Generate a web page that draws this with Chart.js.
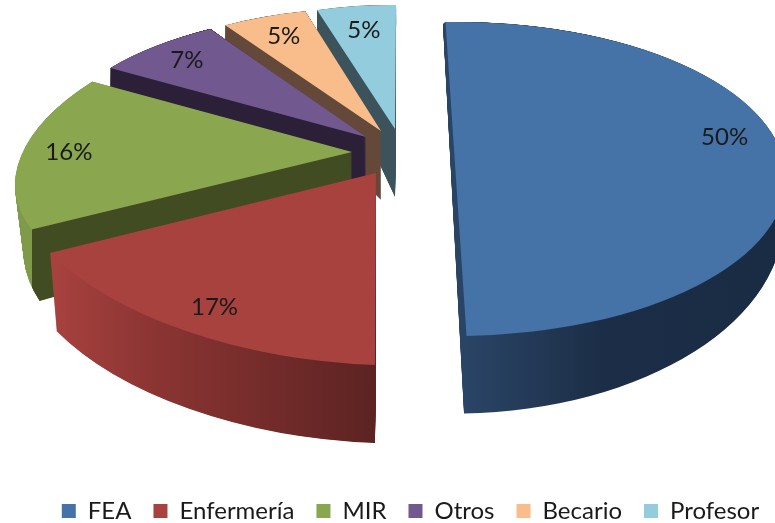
<!DOCTYPE html>
<html><head><meta charset="utf-8">
<style>html,body{margin:0;padding:0;background:#fff}canvas{display:block}</style>
<script src="https://cdn.jsdelivr.net/npm/chart.js@4"></script></head>
<body><canvas id="c" width="775" height="523"></canvas>
<script>
const categories = ['FEA','Enfermería','MIR','Otros','Becario','Profesor'];
const values = [50,17,16,7,5,5];
const topColors = ['#4572a7','#a8423f','#8aa64f','#71588f','#f9bd8c','#93cddd'];
// Wall shading: [device x, colour] stops
const wallStops = [
  [[466,'#2a4466'],[600,'#1c2e47'],[775,'#1a2c44']],
  [[50,'#a8423f'],[150,'#8c3533'],[376,'#5c2322']],
  [[15,'#7f9a48'],[31.9,'#7f9a48'],[32,'#424c22'],[360,'#424c22']],
  [[0,'#2c2038'],[775,'#2c2038']],
  [[0,'#64493a'],[775,'#64493a']],
  [[0,'#3d535b'],[775,'#3d535b']]
];
// Per-slice perspective of the squashed, exploded 3-D pie: [a,b,c,d,e,f]
const faceMatrix = [
  [330,0,-1,157,456,179],
  [371.2,21,-14,191.5,376,173],
  [328.6,1.4,-74.4,153.7,352,152],
  [308.3,13.4,-43.2,126.6,366,137],
  [280,16.2,-21.2,121.5,381,131],
  [255.3,7.4,-9.95,123.9,395,129]
];
// Extrusion of each slice: [depth at apex, bottom x scale, bottom y scale, bottom x shift]
const extrude = [[40,1,1.24,-2.5],[78,0.98,1,0],[60,0.975,1.15,0],[60,1,1.55,0],[69,1,1.51,0],[68,1,1.4,0]];
const labelRadius = [0.855,0.85,0.86,0.85,0.83,0.8];
const labelAngleShift = [-16,0,1.5,0,0,0];
const drawOrder = [5,4,3,2,1,0];
const FONT = 'Lato';

function lerp(a,b,t){return a+(b-a)*t;}
const pie3d = {
  id:'pie3d',
  beforeDatasetsDraw(chart){
    const ctx = chart.ctx, els = chart.getDatasetMeta(0).data;
    const paint = (el, m, fill) => {
      const R = el.outerRadius;
      const A=m[0]/R,B=m[1]/R,C=m[2]/R,D=m[3]/R;
      const E=m[4]-A*el.x-C*el.y, F=m[5]-B*el.x-D*el.y;
      ctx.save();
      ctx.transform(A,B,C,D,E,F);
      let style = fill;
      if (Array.isArray(fill)) {
        const n=A*A+C*C, x0=fill[0][0], x1=fill[fill.length-1][0];
        const g0=A*el.x+C*el.y+E;
        const px=el.x+A*(x0-g0)/n, py=el.y+C*(x0-g0)/n;
        style=ctx.createLinearGradient(px,py,px+A*(x1-x0)/n,py+C*(x1-x0)/n);
        fill.forEach(s=>style.addColorStop((s[0]-x0)/(x1-x0),s[1]));
      }
      const ghost=Object.create(el);
      ghost.options={backgroundColor:style,borderColor:style,borderWidth:0,borderAlign:'center',offset:0,spacing:0,circular:true,borderRadius:0,borderDash:[],borderDashOffset:0,borderJoinStyle:'round'};
      ghost.draw(ctx);
      ctx.restore();
    };
    drawOrder.forEach(i=>{
      const m=faceMatrix[i], x=extrude[i], el=els[i];
      const bot=[m[0]*x[1],m[1]*x[2],m[2]*x[1],m[3]*x[2],m[4]+x[3],m[5]+x[0]];
      const steps=Math.ceil(x[0]*2);
      for(let s=steps;s>0;s--){
        const t=s/steps;
        paint(el,m.map((v,k)=>lerp(v,bot[k],t)),wallStops[i]);
      }
      paint(el,m,topColors[i]);
    });
    return false;
  },
  afterDraw(chart){
    const ctx=chart.ctx, els=chart.getDatasetMeta(0).data;
    const total=values.reduce((a,b)=>a+b,0);
    ctx.save();
    ctx.font='24px '+FONT; ctx.fillStyle='#1a1a1a'; ctx.textAlign='center'; ctx.textBaseline='middle';
    els.forEach((el,i)=>{
      const m=faceMatrix[i];
      const th=(el.startAngle+el.endAngle)/2+labelAngleShift[i]*Math.PI/180, r=labelRadius[i];
      const ux=r*Math.cos(th), uy=r*Math.sin(th);
      ctx.fillText(Math.round(values[i]/total*100)+'%',m[0]*ux+m[2]*uy+m[4],m[1]*ux+m[3]*uy+m[5]);
    });
    ctx.restore();
  }
};
new Chart(document.getElementById('c'),{
  type:'pie',
  data:{labels:categories,datasets:[{data:values,backgroundColor:topColors,borderWidth:0}]},
  options:{
    responsive:false,animation:false,rotation:-2,
    layout:{padding:{bottom:-10,left:23,right:-23,top:0}},
    plugins:{
      tooltip:{enabled:false},
      legend:{position:'bottom',labels:{boxWidth:14,boxHeight:14,padding:22,color:'#1a1a1a',font:{family:FONT,size:24}}}
    }
  },
  plugins:[pie3d]
});
</script></body></html>
